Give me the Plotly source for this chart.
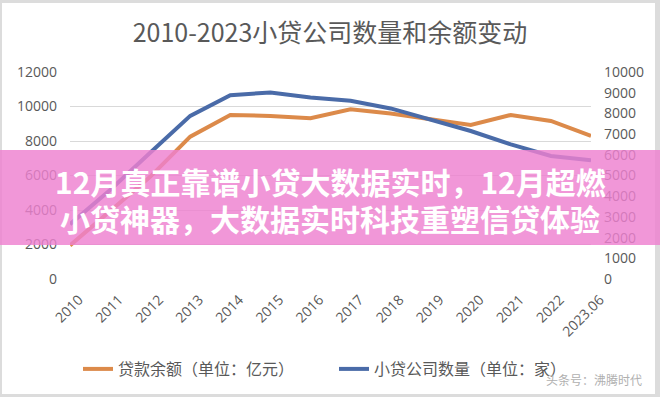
import plotly.graph_objects as go

years = ["2010", "2011", "2012", "2013", "2014", "2015", "2016", "2017",
         "2018", "2019", "2020", "2021", "2022", "2023.06"]
loan_balance = [1950, 3915, 5920, 8250, 9510, 9450, 9320, 9840, 9590, 9260, 8930, 9510, 9160, 8290]
company_count = [2650, 4300, 6100, 7880, 8880, 9010, 8770, 8610, 8240, 7690, 7150, 6500, 5940, 5740]

title_text = "2010-2023小贷公司数量和余额变动"
name_loan = "贷款余额（单位：亿元）"
name_count = "小贷公司数量（单位：家）"
banner_line1 = "12月真正靠谱小贷大数据实时，12月超燃"
banner_line2 = "小贷神器，大数据实时科技重塑信贷体验"
watermark = "头条号：沸腾时代"

W, H = 660, 397
L, R, T, B = 70, 69, 72, 118
PW = W - L - R
PH = H - T - B


def px(x):
    return (x - L) / PW


def py(y):
    return (H - B - y) / PH


num_font = "Open Sans, DejaVu Sans, sans-serif"
cjk_font = "Noto Sans CJK SC, sans-serif"
grey = "#595959"

fig = go.Figure()
fig.add_trace(go.Scatter(x=years, y=loan_balance, name=name_loan, mode="lines",
                         line=dict(color="#DC8A4A", width=4), yaxis="y"))
fig.add_trace(go.Scatter(x=years, y=company_count, name=name_count, mode="lines",
                         line=dict(color="#4A6BA8", width=4), yaxis="y2"))

fig.update_layout(
    width=W, height=H,
    margin=dict(l=L, r=R, t=T, b=B, autoexpand=False),
    paper_bgcolor="#DCDCDC",
    plot_bgcolor="rgba(0,0,0,0)",
    title=dict(text=title_text, x=0.5, xanchor="center", xref="container",
               y=1 - 33 / H, yanchor="middle", yref="container", automargin=False,
               font=dict(family=cjk_font, size=25, color=grey)),
    xaxis=dict(type="category", tickangle=-45, showgrid=False, zeroline=False,
               showline=False, ticks="", automargin=False,
               ticklabelstandoff=9, ticklabelshift=9,
               tickfont=dict(family=num_font, size=14, color=grey)),
    yaxis=dict(range=[0, 12000], dtick=2000, tickformat="d", showgrid=True,
               gridcolor="#D9D9D9", gridwidth=1, zeroline=False, showline=False,
               ticks="", ticklabelstandoff=12, automargin=False,
               tickfont=dict(family=num_font, size=14, color=grey)),
    yaxis2=dict(range=[0, 10000], dtick=1000, tickformat="d", overlaying="y",
                side="right", showgrid=False, zeroline=False, showline=False,
                ticks="", ticklabelstandoff=12, automargin=False,
                tickfont=dict(family=num_font, size=14, color=grey)),
    legend=dict(orientation="h", xref="container", yref="container",
                x=78 / W, xanchor="left", y=1 - 369 / H, yanchor="middle",
                entrywidth=211, entrywidthmode="pixels",
                font=dict(family=cjk_font, size=16, color=grey),
                bgcolor="rgba(0,0,0,0)"),
    showlegend=True,
)

# white card inside grey frame
fig.add_shape(type="rect", xref="paper", yref="paper",
              x0=px(2), x1=px(655), y0=py(394), y1=py(3),
              fillcolor="white", line=dict(width=0), layer="below")

# pink banner
fig.add_shape(type="rect", xref="paper", yref="paper",
              x0=px(0), x1=px(W), y0=py(245), y1=py(150),
              fillcolor="rgba(238,128,208,0.82)", line=dict(width=0), layer="above")

fig.add_annotation(text="<b>" + banner_line1 + "</b>", xref="paper", yref="paper",
                   x=px(330), y=py(181), showarrow=False, xanchor="center", yanchor="middle",
                   font=dict(family=cjk_font, size=30, color="white"))
fig.add_annotation(text="<b>" + banner_line2 + "</b>", xref="paper", yref="paper",
                   x=px(330), y=py(218), showarrow=False, xanchor="center", yanchor="middle",
                   font=dict(family=cjk_font, size=30, color="white"))

fig.add_annotation(text=watermark, xref="paper", yref="paper",
                   x=px(594), y=py(379), showarrow=False, xanchor="center", yanchor="middle",
                   font=dict(family=cjk_font, size=12, color="#B0B0B0"))

fig.write_html("out.html",
               config={"displayModeBar": False},
               post_script="document.body.style.margin='0';document.body.style.overflow='hidden';")
